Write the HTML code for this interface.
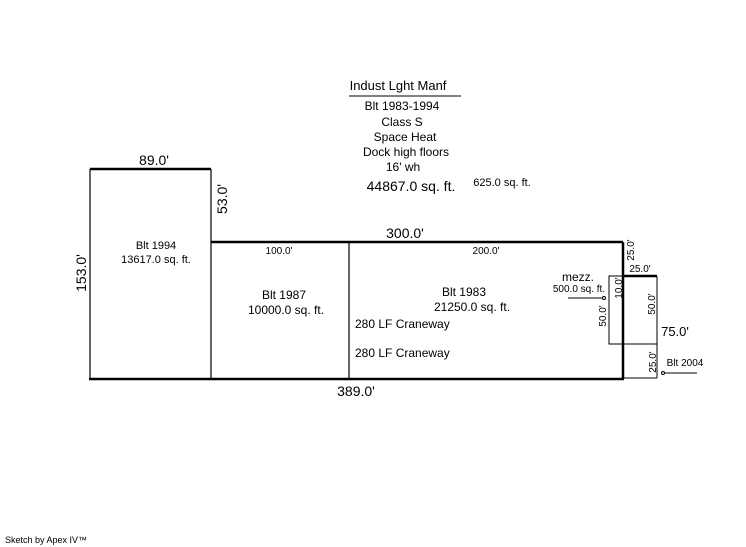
<!DOCTYPE html>
<html><head><meta charset="utf-8"><style>
html,body{margin:0;padding:0;background:#fff;width:746px;height:547px;overflow:hidden}
svg text{font-family:"Liberation Sans",Arial,sans-serif;fill:#000}
</style></head><body>
<svg width="746" height="547" xmlns="http://www.w3.org/2000/svg">
<g stroke="#000" fill="none">
<line x1="90" y1="169" x2="211" y2="169" stroke-width="2.5"/>
<line x1="90" y1="169" x2="90" y2="379" stroke-width="1.2"/>
<line x1="211" y1="169" x2="211" y2="379" stroke-width="1.2"/>
<line x1="211" y1="242" x2="623" y2="242" stroke-width="2.5"/>
<line x1="623" y1="242" x2="623" y2="379" stroke-width="2.5"/>
<line x1="89" y1="379" x2="624" y2="379" stroke-width="2.5"/>
<line x1="349" y1="242" x2="349" y2="379" stroke-width="1.2"/>
<line x1="623" y1="276" x2="657" y2="276" stroke-width="2.5"/>
<line x1="657" y1="276" x2="657" y2="378" stroke-width="1"/>
<line x1="623" y1="378" x2="657" y2="378" stroke-width="1"/>
<line x1="623" y1="344" x2="657" y2="344" stroke-width="1"/>
<rect x="609" y="276" width="14" height="68" stroke-width="1"/>
<line x1="349" y1="96" x2="461" y2="96" stroke-width="1"/>
<line x1="568" y1="298" x2="602" y2="298" stroke-width="1"/>
<circle cx="604" cy="298" r="1.5" stroke-width="1"/>
<line x1="664" y1="373" x2="697" y2="373" stroke-width="1"/>
<circle cx="663" cy="373" r="1.5" stroke-width="1"/>
</g>
<g text-anchor="middle">
<text x="398" y="90" font-size="13">Indust Lght Manf</text>
<text x="402" y="110" font-size="12">Blt 1983-1994</text>
<text x="402" y="126" font-size="12">Class S</text>
<text x="405" y="141" font-size="12">Space Heat</text>
<text x="406" y="156" font-size="12">Dock high floors</text>
<text x="403" y="171" font-size="12">16' wh</text>
<text x="411" y="191" font-size="14">44867.0 sq. ft.</text>
<text x="502" y="186" font-size="11">625.0 sq. ft.</text>
<text x="154" y="165" font-size="14">89.0'</text>
<text x="405" y="238" font-size="14">300.0'</text>
<text x="356" y="396" font-size="14">389.0'</text>
<text x="279" y="254" font-size="10">100.0'</text>
<text x="486" y="254" font-size="10">200.0'</text>
<text x="156" y="249" font-size="11">Blt 1994</text>
<text x="156" y="263" font-size="11">13617.0 sq. ft.</text>
<text x="284" y="299" font-size="12">Blt 1987</text>
<text x="286" y="314" font-size="12">10000.0 sq. ft.</text>
<text x="464" y="296" font-size="12">Blt 1983</text>
<text x="472" y="311" font-size="12">21250.0 sq. ft.</text>
<text x="578" y="281" font-size="12">mezz.</text>
<text x="579" y="292" font-size="10">500.0 sq. ft.</text>
<text x="640" y="272" font-size="10">25.0'</text>
<text x="675" y="336" font-size="13">75.0'</text>
<text x="685" y="366" font-size="10">Blt 2004</text>
</g>
<text x="355" y="328" font-size="12">280 LF Craneway</text>
<text x="355" y="357" font-size="12">280 LF Craneway</text>
<text x="5" y="543" font-size="9">Sketch by Apex IV™</text>
<g text-anchor="middle">
<text transform="translate(86,273) rotate(-90)" font-size="14">153.0'</text>
<text transform="translate(227,199) rotate(-90)" font-size="14">53.0'</text>
<text transform="translate(634,250) rotate(-90)" font-size="10">25.0'</text>
<text transform="translate(622,288) rotate(-90)" font-size="10">10.0'</text>
<text transform="translate(606,316) rotate(-90)" font-size="10">50.0'</text>
<text transform="translate(655,304) rotate(-90)" font-size="10">50.0'</text>
<text transform="translate(656,362) rotate(-90)" font-size="10">25.0'</text>
</g>
</svg>
</body></html>
